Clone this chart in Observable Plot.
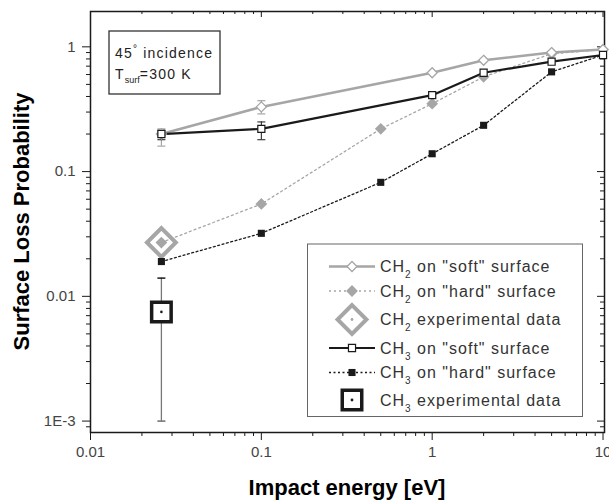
<!DOCTYPE html>
<html><head><meta charset="utf-8">
<script src="https://cdn.jsdelivr.net/npm/d3@7"></script>
<script src="https://cdn.jsdelivr.net/npm/@observablehq/plot@0.6"></script>
<style>
body{margin:0;background:#fff;}
#chart{width:609px;height:504px;}
svg{display:block;}
</style>
</head><body><div id="chart"></div>
<script>
// ---- data ----
const ch2SoftE = [0.026, 0.1, 1, 2, 5, 10];
const ch2SoftP = [0.20, 0.33, 0.62, 0.78, 0.90, 0.95];
const ch2HardE = [0.026, 0.1, 0.5, 1, 2, 5, 10];
const ch2HardP = [0.027, 0.055, 0.22, 0.35, 0.575, 0.88, 0.95];
const ch3SoftE = [0.026, 0.1, 1, 2, 5, 10];
const ch3SoftP = [0.20, 0.22, 0.41, 0.62, 0.76, 0.86];
const ch3HardE = [0.026, 0.1, 0.5, 1, 2, 5, 10];
const ch3HardP = [0.019, 0.032, 0.082, 0.139, 0.235, 0.63, 0.86];
const ch2SoftErrE = [0.026, 0.1];
const ch2SoftErrLo = [0.16, 0.29];
const ch2SoftErrHi = [0.22, 0.37];
const ch3SoftErrE = [0.026, 0.1];
const ch3SoftErrLo = [0.18, 0.18];
const ch3SoftErrHi = [0.215, 0.25];
const ch2ExpE = [0.026];
const ch2ExpP = [0.027];
const ch3ExpE = [0.026];
const ch3ExpP = [0.0075];
const ch3ExpLo = [0.001];
const ch3ExpHi = [0.014];
const xMajor = [0.01, 0.1, 1, 10];
const xTickLabels = ["0.01", "0.1", "1", "10"];
const yMajor = [0.001, 0.01, 0.1, 1];
const yTickLabels = ["1E-3", "0.01", "0.1", "1"];
const legendLabels = [
  ["CH", "2", " on \"soft\" surface"],
  ["CH", "2", " on \"hard\" surface"],
  ["CH", "2", " experimental data"],
  ["CH", "3", " on \"soft\" surface"],
  ["CH", "3", " on \"hard\" surface"],
  ["CH", "3", " experimental data"]
];
const xTitle = "Impact energy [eV]";
const yTitle = "Surface Loss Probability";

// ---- layout ----
const W = 609, H = 504, mL = 90, mR = 5, mT = 11, mB = 72;
const plotW = W - mL - mR, plotH = H - mT - mB;
const xDomain = [0.01, 10.2], yDomain = [8.1e-4, 1.92];
const GRAY = "#a6a6a6", BLACK = "#1a1a1a";
const FONT = "'Liberation Sans', Arial, sans-serif";

const tbl = (E, P) => E.map((e, i) => ({e, p: P[i]}));
const ch2Soft = tbl(ch2SoftE, ch2SoftP), ch2Hard = tbl(ch2HardE, ch2HardP);
const ch3Soft = tbl(ch3SoftE, ch3SoftP), ch3Hard = tbl(ch3HardE, ch3HardP);
const err = (E, L, Hh) => E.map((e, i) => ({e, lo: L[i], hi: Hh[i]}));
const ch2SoftErr = err(ch2SoftErrE, ch2SoftErrLo, ch2SoftErrHi);
const ch3SoftErr = err(ch3SoftErrE, ch3SoftErrLo, ch3SoftErrHi);
const ch3ExpErr = err(ch3ExpE, ch3ExpLo, ch3ExpHi);
const ch2Exp = tbl(ch2ExpE, ch2ExpP), ch3Exp = tbl(ch3ExpE, ch3ExpP);

const minorOf = (lo, hi) => {
  const out = [];
  for (let k = Math.floor(Math.log10(lo)); k <= Math.ceil(Math.log10(hi)); k++)
    for (let m = 2; m <= 9; m++) { const v = m * 10 ** k; if (v >= lo && v <= hi) out.push(v); }
  return out;
};
const xMinor = minorOf(...xDomain), yMinor = minorOf(...yDomain);
const xLab = new Map(xMajor.map((v, i) => [v, xTickLabels[i]]));
const yLab = new Map(yMajor.map((v, i) => [v, yTickLabels[i]]));

const capSym = {draw(ctx, size) { const w = Math.sqrt(size / Math.PI); ctx.moveTo(-w, 0); ctx.lineTo(w, 0); }};

const plot = Plot.plot({
  width: W, height: H, marginLeft: mL, marginRight: mR, marginTop: mT, marginBottom: mB,
  style: {fontFamily: FONT, background: "#fff", overflow: "visible"},
  x: {type: "log", domain: xDomain, label: null},
  y: {type: "log", domain: yDomain, label: null},
  marks: [
    // axes
    Plot.axisX({anchor: "bottom", ticks: xMinor, tickSize: 4, tickFormat: () => "", stroke: BLACK, label: null}),
    Plot.axisX({anchor: "bottom", ticks: xMajor, tickSize: 8, tickPadding: 6, tickFormat: d => xLab.get(d), stroke: BLACK, fill: "#444", fontSize: 15, label: null}),
    Plot.axisY({anchor: "left", ticks: yMinor, tickSize: 4, tickFormat: () => "", stroke: BLACK, label: null}),
    Plot.axisY({anchor: "left", ticks: yMajor, tickSize: 8, tickPadding: 7, tickFormat: d => yLab.get(d), stroke: BLACK, fill: "#444", fontSize: 15, label: null}),
    Plot.tickX(xMajor, {x: d => d, stroke: BLACK, insetBottom: plotH - 6}),
    Plot.tickX(xMinor, {x: d => d, stroke: BLACK, insetBottom: plotH - 3}),
    Plot.tickY(yMajor, {y: d => d, stroke: BLACK, insetLeft: plotW - 7}),
    Plot.tickY(yMinor, {y: d => d, stroke: BLACK, insetLeft: plotW - 4}),
    Plot.frame({stroke: BLACK, strokeWidth: 1.5}),
    // experimental data
    Plot.ruleX(ch3ExpErr, {x: "e", y1: "lo", y2: "hi", stroke: "#777", strokeWidth: 1.3}),
    Plot.dot(ch3ExpErr, {x: "e", y: "lo", symbol: capSym, r: 4, stroke: "#555", strokeWidth: 1.3}),
    Plot.dot(ch3ExpErr, {x: "e", y: "hi", symbol: capSym, r: 4, stroke: BLACK, strokeWidth: 1.5}),
    Plot.dot(ch2Exp, {x: "e", y: "p", symbol: "diamond2", r: 13, fill: "white", stroke: GRAY, strokeWidth: 4}),
    // lines
    Plot.line(ch2Hard, {x: "e", y: "p", stroke: GRAY, strokeWidth: 1.3, strokeDasharray: "2,3"}),
    Plot.line(ch3Hard, {x: "e", y: "p", stroke: BLACK, strokeWidth: 1.3, strokeDasharray: "2,2.5"}),
    Plot.line(ch2Soft, {x: "e", y: "p", stroke: GRAY, strokeWidth: 2.5}),
    Plot.line(ch3Soft, {x: "e", y: "p", stroke: BLACK, strokeWidth: 2.2}),
    // error bars on soft series
    Plot.ruleX(ch2SoftErr, {x: "e", y1: "lo", y2: "hi", stroke: GRAY, strokeWidth: 1.2}),
    Plot.dot(ch2SoftErr, {x: "e", y: "lo", symbol: capSym, r: 4, stroke: GRAY, strokeWidth: 1.2}),
    Plot.dot(ch2SoftErr, {x: "e", y: "hi", symbol: capSym, r: 4, stroke: GRAY, strokeWidth: 1.2}),
    Plot.ruleX(ch3SoftErr, {x: "e", y1: "lo", y2: "hi", stroke: BLACK, strokeWidth: 1}),
    Plot.dot(ch3SoftErr, {x: "e", y: "lo", symbol: capSym, r: 4, stroke: BLACK, strokeWidth: 1}),
    Plot.dot(ch3SoftErr, {x: "e", y: "hi", symbol: capSym, r: 4, stroke: BLACK, strokeWidth: 1}),
    // markers
    Plot.dot(ch2Hard, {x: "e", y: "p", symbol: "diamond2", r: 5.3, fill: GRAY, stroke: "none"}),
    Plot.dot(ch3Hard, {x: "e", y: "p", symbol: "square", r: 4, fill: BLACK, stroke: "none"}),
    Plot.dot(ch2Soft, {x: "e", y: "p", symbol: "diamond2", r: 4.5, fill: "white", stroke: GRAY, strokeWidth: 1.3}),
    Plot.dot(ch3Soft, {x: "e", y: "p", symbol: "square", r: 4, fill: "white", stroke: BLACK, strokeWidth: 1.2}),
    Plot.dot(ch3Exp, {x: "e", y: "p", symbol: "square", r: 11, fill: "white", stroke: BLACK, strokeWidth: 3.5}),
    Plot.dot(ch3Exp, {x: "e", y: "p", r: 1.3, fill: BLACK}),
  ]
});
document.getElementById("chart").appendChild(plot);

// ---- chrome: titles, annotation box, legend ----
const svg = d3.select(plot);
svg.append("text").attr("x", mL + plotW / 2).attr("y", 495).attr("text-anchor", "middle")
  .attr("font-family", FONT).attr("font-weight", "bold").attr("font-size", 22).attr("fill", "#000").text(xTitle);
svg.append("text").attr("transform", `translate(28.5,${mT + plotH / 2}) rotate(-90)`).attr("text-anchor", "middle")
  .attr("font-family", FONT).attr("font-weight", "bold").attr("font-size", 22).attr("fill", "#000").text(yTitle);

// annotation
const ann = svg.append("g").attr("font-family", FONT).attr("font-size", 14).attr("fill", "#222").attr("text-anchor", "start");
ann.append("rect").attr("x", 109).attr("y", 31).attr("width", 111).attr("height", 63).attr("fill", "white").attr("stroke", "#333").attr("stroke-width", 1.3);
const t1 = ann.append("text").attr("x", 115).attr("y", 58).attr("letter-spacing", 1.2);
t1.append("tspan").text("45");
t1.append("tspan").attr("dy", -6).attr("font-size", 10).text("°");
t1.append("tspan").attr("dy", 6).text(" incidence");
const t2 = ann.append("text").attr("x", 115).attr("y", 79).attr("letter-spacing", 1.2);
t2.append("tspan").text("T");
t2.append("tspan").attr("dy", 4).attr("font-size", 9).attr("letter-spacing", 0).text("surf");
t2.append("tspan").attr("dy", -4).text("=300 K");

// legend
const lg = svg.append("g").attr("font-family", FONT).attr("font-size", 16).attr("fill", "#333").attr("text-anchor", "start");
lg.append("rect").attr("x", 307.5).attr("y", 244).attr("width", 275).attr("height", 172.5).attr("fill", "white").attr("stroke", "#666").attr("stroke-width", 1);
const rowsY = [266.5, 291, 319.5, 348, 372.5, 400];
const sym = (type, r) => d3.symbol(type, Math.PI * r * r)();
const spec = [
  {line: GRAY, w: 2.5, dash: null, type: d3.symbolDiamond2, r: 4.5, fill: "white", stroke: GRAY, sw: 1.3},
  {line: GRAY, w: 1.3, dash: "2,3", type: d3.symbolDiamond2, r: 5.3, fill: GRAY, stroke: "none", sw: 0},
  {line: null, type: d3.symbolDiamond2, r: 13, fill: "white", stroke: GRAY, sw: 4, dot: GRAY},
  {line: BLACK, w: 2.2, dash: null, type: d3.symbolSquare, r: 4, fill: "white", stroke: BLACK, sw: 1.2},
  {line: BLACK, w: 1.3, dash: "2,2.5", type: d3.symbolSquare, r: 4, fill: BLACK, stroke: "none", sw: 0},
  {line: null, type: d3.symbolSquare, r: 11, fill: "white", stroke: BLACK, sw: 3.5, dot: BLACK}
];
spec.forEach((s, i) => {
  const y = rowsY[i];
  if (s.line) lg.append("line").attr("x1", 329).attr("x2", 375).attr("y1", y).attr("y2", y)
    .attr("stroke", s.line).attr("stroke-width", s.w).attr("stroke-dasharray", s.dash);
  lg.append("path").attr("d", sym(s.type, s.r)).attr("transform", `translate(352,${y})`)
    .attr("fill", s.fill).attr("stroke", s.stroke).attr("stroke-width", s.sw);
  if (s.dot) lg.append("circle").attr("cx", 352).attr("cy", y).attr("r", 1.4).attr("fill", s.dot);
  const t = lg.append("text").attr("x", 380).attr("y", y + 5.5).attr("letter-spacing", 1.0);
  t.append("tspan").text(legendLabels[i][0]);
  t.append("tspan").attr("dy", 6).attr("font-size", 10).text(legendLabels[i][1]);
  t.append("tspan").attr("dy", -6).text(legendLabels[i][2]);
});
</script>
</body></html>
